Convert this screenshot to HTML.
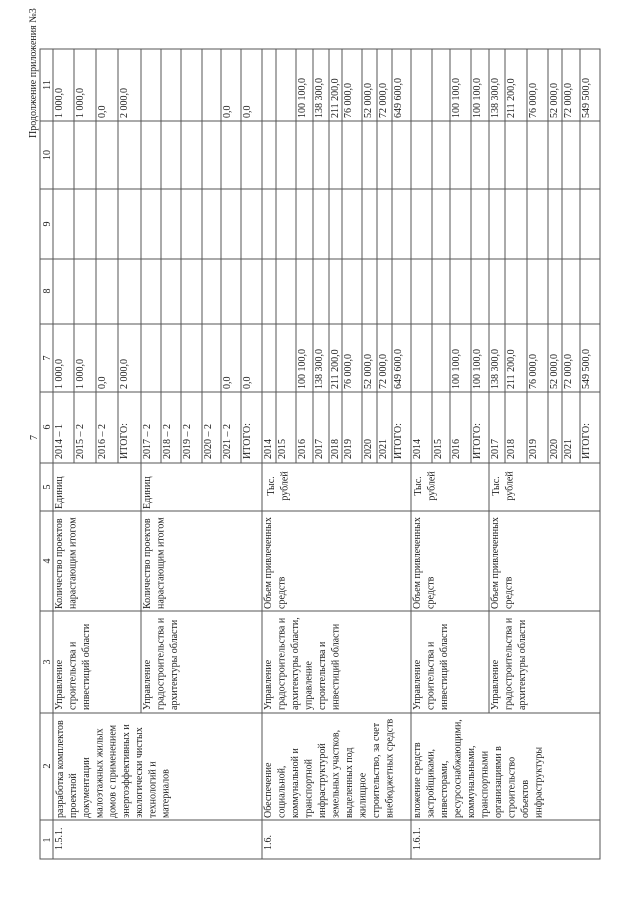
<!DOCTYPE html>
<html><head><meta charset="utf-8"><style>
html,body{margin:0;padding:0;background:#fff;}
svg{display:block;}
text{font-family:"Liberation Serif",serif;font-size:10px;fill:#222;}
</style></head><body>
<svg width="640" height="905" viewBox="0 0 640 905" xmlns="http://www.w3.org/2000/svg">
<g stroke="#555" stroke-width="1" fill="none">
<rect x="40" y="49" width="560" height="810"/>
<line x1="40" y1="121" x2="600" y2="121"/>
<line x1="40" y1="189" x2="600" y2="189"/>
<line x1="40" y1="259" x2="600" y2="259"/>
<line x1="40" y1="324" x2="600" y2="324"/>
<line x1="40" y1="392" x2="600" y2="392"/>
<line x1="40" y1="463" x2="600" y2="463"/>
<line x1="40" y1="511" x2="600" y2="511"/>
<line x1="40" y1="611" x2="600" y2="611"/>
<line x1="40" y1="713" x2="600" y2="713"/>
<line x1="40" y1="820" x2="600" y2="820"/>
<line x1="53" y1="49" x2="53" y2="859"/>
<path d="M74 49V463M96 49V463M118 49V463M141 49V463M161 49V463M181 49V463M202 49V463M221 49V463M241 49V463M262 49V463M276 49V463M296 49V463M313 49V463M329 49V463M342 49V463M362 49V463M377 49V463M392 49V463M411 49V463M432 49V463M450 49V463M471 49V463M489 49V463M505 49V463M527 49V463M548 49V463M562 49V463M580 49V463"/>
<path d="M141 463V713M262 463V713M411 463V713M489 463V713"/>
<path d="M262 713V859M411 713V859"/>
</g>

<text transform="translate(36,138) rotate(-90)" style="font-size:10px">Продолжение приложения №3</text>
<text transform="translate(37,440) rotate(-90)" style="font-size:10px">7</text>

<g text-anchor="middle">
<text transform="translate(50,840) rotate(-90)">1</text>
<text transform="translate(50,766) rotate(-90)">2</text>
<text transform="translate(50,662) rotate(-90)">3</text>
<text transform="translate(50,561) rotate(-90)">4</text>
<text transform="translate(50,487) rotate(-90)">5</text>
<text transform="translate(50,427) rotate(-90)">6</text>
<text transform="translate(50,358) rotate(-90)">7</text>
<text transform="translate(50,291) rotate(-90)">8</text>
<text transform="translate(50,224) rotate(-90)">9</text>
<text transform="translate(50,155) rotate(-90)">10</text>
<text transform="translate(50,85) rotate(-90)">11</text>
</g>

<text transform="translate(62,850) rotate(-90)">1.5.1.</text>
<text transform="translate(271,850) rotate(-90)">1.6.</text>
<text transform="translate(420,850) rotate(-90)">1.6.1.</text>

<g>
<text transform="translate(63,818) rotate(-90)">разработка комплектов</text>
<text transform="translate(76,818) rotate(-90)">проектной</text>
<text transform="translate(89,818) rotate(-90)">документации</text>
<text transform="translate(102.5,818) rotate(-90)">малоэтажных жилых</text>
<text transform="translate(115.5,818) rotate(-90)">домов с применением</text>
<text transform="translate(129,818) rotate(-90)">энергоэффективных и</text>
<text transform="translate(142,818) rotate(-90)">экологически чистых</text>
<text transform="translate(155.5,818) rotate(-90)">технологий и</text>
<text transform="translate(168.5,818) rotate(-90)">материалов</text>

<text transform="translate(271,818) rotate(-90)">Обеспечение</text>
<text transform="translate(284.5,818) rotate(-90)">социальной,</text>
<text transform="translate(298,818) rotate(-90)">коммунальной и</text>
<text transform="translate(311.5,818) rotate(-90)">транспортной</text>
<text transform="translate(325,818) rotate(-90)">инфраструктурой</text>
<text transform="translate(338.5,818) rotate(-90)">земельных участков,</text>
<text transform="translate(352,818) rotate(-90)">выделенных под</text>
<text transform="translate(365.5,818) rotate(-90)">жилищное</text>
<text transform="translate(379,818) rotate(-90)">строительство, за счет</text>
<text transform="translate(392.5,818) rotate(-90)">внебюджетных средств</text>

<text transform="translate(420,818) rotate(-90)">вложение средств</text>
<text transform="translate(433.5,818) rotate(-90)">застройщиками,</text>
<text transform="translate(447,818) rotate(-90)">инвесторами,</text>
<text transform="translate(460.5,818) rotate(-90)">ресурсоснабжающими,</text>
<text transform="translate(474,818) rotate(-90)">коммунальными,</text>
<text transform="translate(487.5,818) rotate(-90)">транспортными</text>
<text transform="translate(501,818) rotate(-90)">организациями в</text>
<text transform="translate(514.5,818) rotate(-90)">строительство</text>
<text transform="translate(528,818) rotate(-90)">объектов</text>
<text transform="translate(541.5,818) rotate(-90)">инфраструктуры</text>
</g>

<g>
<text transform="translate(62,710) rotate(-90)">Управление</text>
<text transform="translate(75.5,710) rotate(-90)">строительства и</text>
<text transform="translate(89,710) rotate(-90)">инвестиций области</text>

<text transform="translate(150,710) rotate(-90)">Управление</text>
<text transform="translate(163.5,710) rotate(-90)">градостроительства и</text>
<text transform="translate(177,710) rotate(-90)">архитектуры области</text>

<text transform="translate(271,710) rotate(-90)">Управление</text>
<text transform="translate(284.5,710) rotate(-90)">градостроительства и</text>
<text transform="translate(298,710) rotate(-90)">архитектуры области,</text>
<text transform="translate(311.5,710) rotate(-90)">управление</text>
<text transform="translate(325,710) rotate(-90)">строительства и</text>
<text transform="translate(338.5,710) rotate(-90)">инвестиций области</text>

<text transform="translate(420,710) rotate(-90)">Управление</text>
<text transform="translate(433.5,710) rotate(-90)">строительства и</text>
<text transform="translate(447,710) rotate(-90)">инвестиций области</text>

<text transform="translate(498,710) rotate(-90)">Управление</text>
<text transform="translate(511.5,710) rotate(-90)">градостроительства и</text>
<text transform="translate(525,710) rotate(-90)">архитектуры области</text>
</g>

<g>
<text transform="translate(62,609) rotate(-90)">Количество проектов</text>
<text transform="translate(75.5,609) rotate(-90)">нарастающим итогом</text>
<text transform="translate(150,609) rotate(-90)">Количество проектов</text>
<text transform="translate(163.5,609) rotate(-90)">нарастающим итогом</text>
<text transform="translate(271,609) rotate(-90)">Объем привлеченных</text>
<text transform="translate(284.5,609) rotate(-90)">средств</text>
<text transform="translate(420,609) rotate(-90)">Объем привлеченных</text>
<text transform="translate(433.5,609) rotate(-90)">средств</text>
<text transform="translate(498,609) rotate(-90)">Объем привлеченных</text>
<text transform="translate(511.5,609) rotate(-90)">средств</text>
</g>

<text transform="translate(62,509) rotate(-90)">Единиц</text>
<text transform="translate(150,509) rotate(-90)">Единиц</text>
<g text-anchor="middle">
<text transform="translate(274,486) rotate(-90)">Тыс.</text>
<text transform="translate(287.5,486) rotate(-90)">рублей</text>
<text transform="translate(421,486) rotate(-90)">Тыс.</text>
<text transform="translate(434.5,486) rotate(-90)">рублей</text>
<text transform="translate(499,486) rotate(-90)">Тыс.</text>
<text transform="translate(512.5,486) rotate(-90)">рублей</text>
</g>

<g>
<text transform="translate(62,459) rotate(-90)">2014 – 1</text>
<text transform="translate(83,459) rotate(-90)">2015 – 2</text>
<text transform="translate(105,459) rotate(-90)">2016 – 2</text>
<text transform="translate(127,459) rotate(-90)">ИТОГО:</text>
<text transform="translate(150,459) rotate(-90)">2017 – 2</text>
<text transform="translate(170,459) rotate(-90)">2018 – 2</text>
<text transform="translate(190,459) rotate(-90)">2019 – 2</text>
<text transform="translate(211,459) rotate(-90)">2020 – 2</text>
<text transform="translate(230,459) rotate(-90)">2021 – 2</text>
<text transform="translate(250,459) rotate(-90)">ИТОГО:</text>
<text transform="translate(271,459) rotate(-90)">2014</text>
<text transform="translate(285,459) rotate(-90)">2015</text>
<text transform="translate(305,459) rotate(-90)">2016</text>
<text transform="translate(322,459) rotate(-90)">2017</text>
<text transform="translate(338,459) rotate(-90)">2018</text>
<text transform="translate(351,459) rotate(-90)">2019</text>
<text transform="translate(371,459) rotate(-90)">2020</text>
<text transform="translate(386,459) rotate(-90)">2021</text>
<text transform="translate(401,459) rotate(-90)">ИТОГО:</text>
<text transform="translate(420,459) rotate(-90)">2014</text>
<text transform="translate(441,459) rotate(-90)">2015</text>
<text transform="translate(459,459) rotate(-90)">2016</text>
<text transform="translate(480,459) rotate(-90)">ИТОГО:</text>
<text transform="translate(498,459) rotate(-90)">2017</text>
<text transform="translate(514,459) rotate(-90)">2018</text>
<text transform="translate(536,459) rotate(-90)">2019</text>
<text transform="translate(557,459) rotate(-90)">2020</text>
<text transform="translate(571,459) rotate(-90)">2021</text>
<text transform="translate(589,459) rotate(-90)">ИТОГО:</text>
</g>

<g>
<text transform="translate(62,389) rotate(-90)">1 000,0</text>
<text transform="translate(83,389) rotate(-90)">1 000,0</text>
<text transform="translate(105,389) rotate(-90)">0,0</text>
<text transform="translate(127,389) rotate(-90)">2 000,0</text>
<text transform="translate(230,389) rotate(-90)">0,0</text>
<text transform="translate(250,389) rotate(-90)">0,0</text>
<text transform="translate(305,389) rotate(-90)">100 100,0</text>
<text transform="translate(322,389) rotate(-90)">138 300,0</text>
<text transform="translate(338,389) rotate(-90)">211 200,0</text>
<text transform="translate(351,389) rotate(-90)">76 000,0</text>
<text transform="translate(371,389) rotate(-90)">52 000,0</text>
<text transform="translate(386,389) rotate(-90)">72 000,0</text>
<text transform="translate(401,389) rotate(-90)">649 600,0</text>
<text transform="translate(459,389) rotate(-90)">100 100,0</text>
<text transform="translate(480,389) rotate(-90)">100 100,0</text>
<text transform="translate(498,389) rotate(-90)">138 300,0</text>
<text transform="translate(514,389) rotate(-90)">211 200,0</text>
<text transform="translate(536,389) rotate(-90)">76 000,0</text>
<text transform="translate(557,389) rotate(-90)">52 000,0</text>
<text transform="translate(571,389) rotate(-90)">72 000,0</text>
<text transform="translate(589,389) rotate(-90)">549 500,0</text>
</g>

<g>
<text transform="translate(62,118) rotate(-90)">1 000,0</text>
<text transform="translate(83,118) rotate(-90)">1 000,0</text>
<text transform="translate(105,118) rotate(-90)">0,0</text>
<text transform="translate(127,118) rotate(-90)">2 000,0</text>
<text transform="translate(230,118) rotate(-90)">0,0</text>
<text transform="translate(250,118) rotate(-90)">0,0</text>
<text transform="translate(305,118) rotate(-90)">100 100,0</text>
<text transform="translate(322,118) rotate(-90)">138 300,0</text>
<text transform="translate(338,118) rotate(-90)">211 200,0</text>
<text transform="translate(351,118) rotate(-90)">76 000,0</text>
<text transform="translate(371,118) rotate(-90)">52 000,0</text>
<text transform="translate(386,118) rotate(-90)">72 000,0</text>
<text transform="translate(401,118) rotate(-90)">649 600,0</text>
<text transform="translate(459,118) rotate(-90)">100 100,0</text>
<text transform="translate(480,118) rotate(-90)">100 100,0</text>
<text transform="translate(498,118) rotate(-90)">138 300,0</text>
<text transform="translate(514,118) rotate(-90)">211 200,0</text>
<text transform="translate(536,118) rotate(-90)">76 000,0</text>
<text transform="translate(557,118) rotate(-90)">52 000,0</text>
<text transform="translate(571,118) rotate(-90)">72 000,0</text>
<text transform="translate(589,118) rotate(-90)">549 500,0</text>
</g>
</svg>
</body></html>
